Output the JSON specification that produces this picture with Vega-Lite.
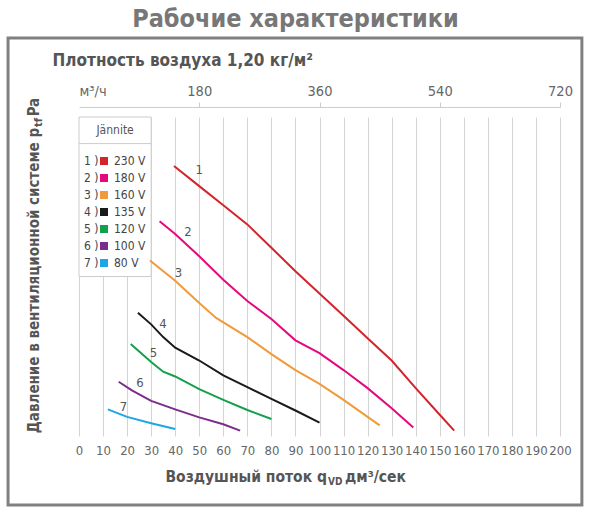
{
  "$schema": "https://vega.github.io/schema/vega-lite/v6.json",
  "width": 481,
  "height": 319,
  "autosize": {"type": "none"},
  "padding": {"left": 79, "top": 117, "right": 30, "bottom": 76},
  "background": "white",
  "title": {
    "text": "Рабочие характеристики",
    "fontSize": 25,
    "fontWeight": "bold",
    "color": "#777777",
    "anchor": "middle",
    "frame": "group",
    "dx": -24,
    "offset": 4
  },
  "config": {
    "font": "DejaVu Sans Condensed",
    "view": {"stroke": null}
  },
  "datasets": {
    "curves": [
      {"v": "230 V", "n": "1 )", "q": 39.5, "p": 254},
      {"v": "230 V", "n": "1 )", "q": 50, "p": 235},
      {"v": "230 V", "n": "1 )", "q": 60, "p": 217},
      {"v": "230 V", "n": "1 )", "q": 70, "p": 199},
      {"v": "230 V", "n": "1 )", "q": 80, "p": 177},
      {"v": "230 V", "n": "1 )", "q": 90, "p": 155},
      {"v": "230 V", "n": "1 )", "q": 100, "p": 134},
      {"v": "230 V", "n": "1 )", "q": 110, "p": 113},
      {"v": "230 V", "n": "1 )", "q": 120, "p": 92},
      {"v": "230 V", "n": "1 )", "q": 130, "p": 71},
      {"v": "230 V", "n": "1 )", "q": 140, "p": 45},
      {"v": "230 V", "n": "1 )", "q": 150, "p": 20},
      {"v": "230 V", "n": "1 )", "q": 156, "p": 5},
      {"v": "180 V", "n": "2 )", "q": 33.5, "p": 202},
      {"v": "180 V", "n": "2 )", "q": 40, "p": 190},
      {"v": "180 V", "n": "2 )", "q": 50, "p": 169},
      {"v": "180 V", "n": "2 )", "q": 60, "p": 147},
      {"v": "180 V", "n": "2 )", "q": 70, "p": 127},
      {"v": "180 V", "n": "2 )", "q": 80, "p": 110},
      {"v": "180 V", "n": "2 )", "q": 90, "p": 90},
      {"v": "180 V", "n": "2 )", "q": 100, "p": 78},
      {"v": "180 V", "n": "2 )", "q": 110, "p": 62},
      {"v": "180 V", "n": "2 )", "q": 120, "p": 45},
      {"v": "180 V", "n": "2 )", "q": 130, "p": 26},
      {"v": "180 V", "n": "2 )", "q": 139, "p": 8},
      {"v": "160 V", "n": "3 )", "q": 29.5, "p": 165},
      {"v": "160 V", "n": "3 )", "q": 40, "p": 146},
      {"v": "160 V", "n": "3 )", "q": 50, "p": 125},
      {"v": "160 V", "n": "3 )", "q": 57, "p": 111},
      {"v": "160 V", "n": "3 )", "q": 70, "p": 93},
      {"v": "160 V", "n": "3 )", "q": 80, "p": 77},
      {"v": "160 V", "n": "3 )", "q": 90, "p": 62},
      {"v": "160 V", "n": "3 )", "q": 100, "p": 49},
      {"v": "160 V", "n": "3 )", "q": 110, "p": 34},
      {"v": "160 V", "n": "3 )", "q": 125, "p": 10},
      {"v": "135 V", "n": "4 )", "q": 24.5, "p": 116},
      {"v": "135 V", "n": "4 )", "q": 30, "p": 105},
      {"v": "135 V", "n": "4 )", "q": 35, "p": 93},
      {"v": "135 V", "n": "4 )", "q": 40, "p": 83},
      {"v": "135 V", "n": "4 )", "q": 50, "p": 71},
      {"v": "135 V", "n": "4 )", "q": 60, "p": 57},
      {"v": "135 V", "n": "4 )", "q": 70, "p": 46},
      {"v": "135 V", "n": "4 )", "q": 80, "p": 35},
      {"v": "135 V", "n": "4 )", "q": 90, "p": 24},
      {"v": "135 V", "n": "4 )", "q": 100, "p": 12.5},
      {"v": "120 V", "n": "5 )", "q": 21.5, "p": 86.5},
      {"v": "120 V", "n": "5 )", "q": 30, "p": 69.5},
      {"v": "120 V", "n": "5 )", "q": 35, "p": 60.5},
      {"v": "120 V", "n": "5 )", "q": 40, "p": 56},
      {"v": "120 V", "n": "5 )", "q": 50, "p": 44},
      {"v": "120 V", "n": "5 )", "q": 60, "p": 34},
      {"v": "120 V", "n": "5 )", "q": 70, "p": 24.5},
      {"v": "120 V", "n": "5 )", "q": 80, "p": 16},
      {"v": "100 V", "n": "6 )", "q": 16.5, "p": 51},
      {"v": "100 V", "n": "6 )", "q": 22, "p": 43},
      {"v": "100 V", "n": "6 )", "q": 30, "p": 33},
      {"v": "100 V", "n": "6 )", "q": 40, "p": 25},
      {"v": "100 V", "n": "6 )", "q": 50, "p": 17.5},
      {"v": "100 V", "n": "6 )", "q": 60, "p": 11},
      {"v": "100 V", "n": "6 )", "q": 67, "p": 5},
      {"v": "80 V", "n": "7 )", "q": 12, "p": 25},
      {"v": "80 V", "n": "7 )", "q": 20, "p": 18},
      {"v": "80 V", "n": "7 )", "q": 30, "p": 12},
      {"v": "80 V", "n": "7 )", "q": 40, "p": 6.5}
    ],
    "labels": [
      {"t": "1", "q": 50, "p": 250},
      {"t": "2", "q": 45.3, "p": 192},
      {"t": "3", "q": 41.4, "p": 153.5},
      {"t": "4", "q": 34.9, "p": 105},
      {"t": "5", "q": 31, "p": 78},
      {"t": "6", "q": 25.4, "p": 49.5},
      {"t": "7", "q": 18.5, "p": 27.5}
    ]
  },
  "resolve": {"axis": {"x": "independent"}},
  "layer": [
    {
      "data": {"values": [{}]},
      "mark": {"type": "rect", "filled": false, "stroke": "#808080", "strokeWidth": 3},
      "encoding": {
        "x": {
          "datum": -29.5,
          "type": "quantitative",
          "scale": {"domain": [0, 200], "nice": false, "zero": false},
          "axis": {
            "orient": "top",
            "offset": 10,
            "values": [0, 50, 100, 150, 200],
            "grid": false,
            "labelFlush": false,
            "domainColor": "#cccccc",
            "tickColor": "#cccccc",
            "tickSize": 5,
            "tickOpacity": {"condition": {"test": "datum.value == 0", "value": 0}, "value": 1},
            "labelExpr": "datum.value == 0 ? 'м³/ч' : format(datum.value * 3.6, 'd')",
            "labelAlign": {"condition": {"test": "datum.value == 0", "value": "left"}, "value": "center"},
            "labelPadding": 4,
            "labelFontSize": 14.5,
            "labelColor": "#666666",
            "title": "Плотность воздуха 1,20 кг/м²",
            "titleAnchor": "start",
            "titleAlign": "left",
            "titleX": -27,
            "titleY": -42,
            "titleBaseline": "alphabetic",
            "titleFontSize": 17,
            "titleFontWeight": "bold",
            "titleColor": "#555555"
          }
        },
        "x2": {"datum": 209.1},
        "y": {"datum": -64.9, "type": "quantitative", "scale": {"domain": [0, 300], "nice": false}, "axis": null},
        "y2": {"datum": 374.3}
      }
    },
    {
      "data": {"values": [{}]},
      "mark": {"type": "rect", "fill": "white", "stroke": "#cccccc", "strokeWidth": 1},
      "encoding": {
        "x": {"datum": 0, "type": "quantitative", "axis": null},
        "x2": {"datum": 30},
        "y": {"datum": 150, "type": "quantitative", "axis": null},
        "y2": {"datum": 300}
      }
    },
    {
      "data": {"values": [{}]},
      "mark": {"type": "rule", "stroke": "#cccccc", "strokeWidth": 1},
      "encoding": {
        "x": {"datum": 0, "type": "quantitative", "axis": null},
        "x2": {"datum": 30},
        "y": {"datum": 275, "type": "quantitative", "axis": null}
      }
    },
    {
      "data": {"values": [{}]},
      "mark": {"type": "text", "text": "Jännite", "fontSize": 12, "color": "#555555", "align": "center", "baseline": "middle"},
      "encoding": {
        "x": {"datum": 15, "type": "quantitative", "axis": null},
        "y": {"datum": 287.5, "type": "quantitative", "axis": null}
      }
    },
    {
      "data": {"name": "curves"},
      "mark": {"type": "line", "strokeWidth": 2},
      "encoding": {
        "x": {
          "field": "q",
          "type": "quantitative",
          "scale": {"domain": [0, 200], "nice": false, "zero": false},
          "axis": {
            "orient": "bottom",
            "values": [0, 10, 20, 30, 40, 50, 60, 70, 80, 90, 100, 110, 120, 130, 140, 150, 160, 170, 180, 190, 200],
            "grid": true,
            "gridColor": "#d4d4d4",
            "domain": false,
            "ticks": false,
            "labelFlush": false,
            "labelPadding": 8,
            "labelFontSize": 13,
            "labelColor": "#666666",
            "title": null
          }
        },
        "y": {
          "field": "p",
          "type": "quantitative",
          "scale": {"domain": [0, 300], "nice": false},
          "axis": {
            "values": [0, 25, 50, 75, 100, 125, 150, 175, 200, 225, 250, 275, 300],
            "grid": true,
            "gridColor": "#d4d4d4",
            "domain": false,
            "ticks": false,
            "labelPadding": 10,
            "labelFontSize": 13,
            "labelColor": "#666666",
            "title": null
          }
        },
        "color": {
          "field": "v",
          "type": "nominal",
          "scale": {
            "domain": ["230 V", "180 V", "160 V", "135 V", "120 V", "100 V", "80 V"],
            "range": ["#d3242b", "#e5087f", "#f09a3a", "#1a1a1a", "#13a04c", "#7b2d8e", "#1ca6e6"]
          },
          "legend": {
            "orient": "none",
            "legendX": 19,
            "legendY": 38,
            "title": null,
            "padding": 0,
            "symbolType": "square",
            "symbolSize": 64,
            "symbolStrokeWidth": 0,
            "labelFontSize": 12,
            "labelColor": "#444444",
            "labelOffset": 4,
            "rowPadding": 5,
            "encode": {
              "symbols": {"update": {"fill": {"scale": "color", "field": "value"}, "fillOpacity": {"value": 1}}}
            }
          }
        },
        "opacity": {
          "field": "n",
          "type": "ordinal",
          "scale": {
            "domain": ["1 )", "2 )", "3 )", "4 )", "5 )", "6 )", "7 )"],
            "range": [1, 1, 1, 1, 1, 1, 1]
          },
          "legend": {
            "orient": "none",
            "legendX": 2,
            "legendY": 38,
            "title": null,
            "padding": 0,
            "symbolType": "square",
            "symbolSize": 64,
            "symbolOpacity": 0,
            "symbolStrokeWidth": 0,
            "labelOffset": -9,
            "labelFontSize": 12,
            "labelColor": "#444444",
            "rowPadding": 5
          }
        }
      }
    },
    {
      "data": {"name": "labels"},
      "mark": {"type": "text", "fontSize": 13, "color": "#555555"},
      "encoding": {
        "x": {"field": "q", "type": "quantitative", "axis": null},
        "y": {"field": "p", "type": "quantitative", "axis": null},
        "text": {"field": "t"}
      }
    },
    {
      "data": {"values": [{}]},
      "mark": {"type": "text", "text": "Давление в вентиляционной системе p", "angle": 270, "align": "right", "baseline": "alphabetic", "fontSize": 15, "fontWeight": "bold", "color": "#555555"},
      "encoding": {
        "x": {"datum": -16.8, "type": "quantitative", "axis": null},
        "y": {"datum": 289.7, "type": "quantitative", "axis": null}
      }
    },
    {
      "data": {"values": [{}]},
      "mark": {"type": "text", "text": "tf", "angle": 270, "align": "left", "baseline": "alphabetic", "fontSize": 11, "fontWeight": "bold", "color": "#555555"},
      "encoding": {
        "x": {"datum": -15.2, "type": "quantitative", "axis": null},
        "y": {"datum": 290.6, "type": "quantitative", "axis": null}
      }
    },
    {
      "data": {"values": [{}]},
      "mark": {"type": "text", "text": "Pa", "angle": 270, "align": "left", "baseline": "alphabetic", "fontSize": 15, "fontWeight": "bold", "color": "#555555"},
      "encoding": {
        "x": {"datum": -16.8, "type": "quantitative", "axis": null},
        "y": {"datum": 300.6, "type": "quantitative", "axis": null}
      }
    },
    {
      "data": {"values": [{}]},
      "mark": {"type": "text", "text": "Воздушный поток q", "align": "right", "baseline": "alphabetic", "fontSize": 15.5, "fontWeight": "bold", "color": "#555555"},
      "encoding": {
        "x": {"datum": 103.1, "type": "quantitative", "axis": null},
        "y": {"datum": -43.3, "type": "quantitative", "axis": null}
      }
    },
    {
      "data": {"values": [{}]},
      "mark": {"type": "text", "text": "VD", "align": "left", "baseline": "alphabetic", "fontSize": 10, "fontWeight": "bold", "color": "#555555"},
      "encoding": {
        "x": {"datum": 103.5, "type": "quantitative", "axis": null},
        "y": {"datum": -46.1, "type": "quantitative", "axis": null}
      }
    },
    {
      "data": {"values": [{}]},
      "mark": {"type": "text", "text": "дм³/сек", "align": "left", "baseline": "alphabetic", "fontSize": 15.5, "fontWeight": "bold", "color": "#555555"},
      "encoding": {
        "x": {"datum": 110.6, "type": "quantitative", "axis": null},
        "y": {"datum": -43.3, "type": "quantitative", "axis": null}
      }
    }
  ]
}
